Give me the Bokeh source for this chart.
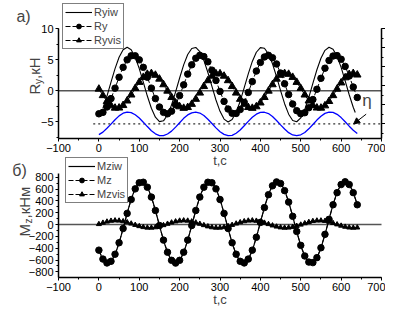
import math
from bokeh.plotting import figure
from bokeh.models import (Range1d, LinearAxis, SingleIntervalTicker, Legend,
                          LegendItem, Label, Arrow, NormalHead)
from bokeh.embed import file_html
from bokeh.resources import INLINE

FONT = "Liberation Sans"

# ---------------- data: panel a) ----------------
t_ryiw = [10, 20, 30, 40, 50, 60, 70, 80, 90, 100, 110, 120, 130, 140, 150, 160, 170, 180,
          190, 200, 210, 220, 230, 240, 250, 260, 270, 280, 290, 300, 310, 320, 330, 340,
          350, 360, 370, 380, 390, 400, 410, 420, 430, 440, 450, 460, 470, 480, 490, 500,
          510, 520, 530, 540, 550, 560, 570, 580, 590, 600, 610, 620, 630, 635]
ryiw = [-2.80, -0.84, 1.40, 3.56, 5.38, 6.58, 7.00, 6.58, 5.38, 3.56, 1.40, -0.84, -2.80,
        -4.24, -4.95, -4.82, -3.88, -2.26, -0.18, 2.06, 4.16, 5.82, 6.79, 6.96, 6.30, 4.89,
        2.94, 0.72, -1.47, -3.30, -4.54, -5.00, -4.62, -3.45, -1.67, 0.50, 2.72, 4.72, 6.19,
        6.93, 6.84, 5.94, 4.35, 2.29, 0.04, -2.07, -3.75, -4.77, -4.97, -4.35, -2.97, -1.04,
        1.18, 3.38, 5.23, 6.50, 6.99, 6.66, 5.53, 3.76, 1.61, -0.63, -2.64, -3.47]

t_s = list(range(0, 650, 10))
ry = [-3.69, -3.46, -2.60, -1.25, 0.43, 2.18, 3.77, 4.97, 5.62, 5.62, 4.97, 3.77, 2.18,
      0.43, -1.25, -2.60, -3.46, -3.69, -3.27, -2.25, -0.77, 0.96, 2.68, 4.18, 5.23, 5.69,
      5.49, 4.66, 3.32, 1.66, -0.10, -1.70, -2.92, -3.60, -3.63, -3.01, -1.84, -0.26, 1.48,
      3.17, 4.55, 5.43, 5.70, 5.31, 4.31, 2.85, 1.13, -0.60, -2.12, -3.19, -3.68, -3.51,
      -2.72, -1.40, 0.25, 2.01, 3.63, 4.87, 5.58, 5.65, 5.07, 3.92, 2.37, 0.61, -1.07]
ryvis = [0.29, -0.75, -1.69, -2.39, -2.76, -2.74, -2.34, -1.61, -0.65, 0.39, 1.38, 2.18,
         2.67, 2.79, 2.52, 1.90, 1.00, -0.03, -1.05, -1.93, -2.54, -2.79, -2.66, -2.15,
         -1.34, -0.34, 0.71, 1.65, 2.37, 2.75, 2.75, 2.37, 1.65, 0.71, -0.34, -1.34, -2.15,
         -2.66, -2.79, -2.54, -1.93, -1.05, -0.03, 1.00, 1.90, 2.52, 2.79, 2.67, 2.18, 1.38,
         0.39, -0.65, -1.61, -2.34, -2.74, -2.76, -2.39, -1.69, -0.75, 0.29, 1.29, 2.11,
         2.64, 2.80, 2.56]
eta = [-0.56, -0.43, -0.23, -0.01, 0.22, 0.42, 0.56, 0.62, 0.59, 0.48, 0.31, 0.09, -0.14,
       -0.36, -0.52, -0.61, -0.61, -0.53, -0.38, -0.17, 0.06, 0.29, 0.47, 0.58, 0.62, 0.57,
       0.44, 0.24, 0.02, -0.21, -0.41, -0.55, -0.62, -0.60, -0.49, -0.32, -0.10, 0.13, 0.35,
       0.51, 0.60, 0.61, 0.54, 0.39, 0.18, -0.05, -0.27, -0.46, -0.58, -0.62, -0.57, -0.45,
       -0.26, -0.03, 0.20, 0.40, 0.55, 0.62, 0.60, 0.50, 0.33, 0.11, -0.12, -0.33, -0.50]
eta_mean_t = [-14, 700]
eta_mean = [0, 0]
zero_t = [-100, 700]
zero_v = [0, 0]

# ---------------- data: panel б) ----------------
mziw = [-440, -594, -661, -632, -510, -312, -68, 193, 432, 615, 720, 729, 643, 473, 243,
        -16, -267, -476, -615, -663, -615, -476, -267, -16, 243, 473, 643, 729, 720, 615,
        432, 193, -68, -312, -510, -632, -661, -594, -440, -218, 37, 292, 514, 668, 735,
        706, 584, 387, 142, -119, -358, -541, -645, -654, -569, -399, -168, 90, 341, 550,
        689, 737, 689, 550, 341]
mz = [-432, -583, -649, -621, -501, -307, -66, 190, 425, 605, 708, 717, 633, 466, 239,
      -15, -262, -467, -604, -651, -604, -467, -262, -15, 239, 466, 633, 717, 708, 605,
      425, 190, -66, -307, -501, -621, -649, -583, -432, -214, 37, 288, 506, 657, 723,
      695, 575, 381, 140, -116, -351, -531, -634, -643, -559, -392, -165, 89, 336, 541,
      678, 725, 678, 541, 336]
mzvis = [8, 31, 50, 64, 70, 67, 56, 39, 17, -6, -27, -43, -52, -53, -46, -31, -10, 13, 35,
         53, 66, 70, 66, 53, 35, 13, -10, -31, -46, -53, -52, -43, -27, -6, 17, 39, 56, 67,
         70, 64, 50, 31, 8, -15, -34, -48, -54, -51, -40, -23, -1, 22, 43, 59, 68, 69, 62,
         47, 26, 3, -19, -37, -50, -54, -50]

# axis extents of each panel
T_LIM = (-100, 700)
RY_LIM = (-7.66, 10)
ETA_LIM = (-0.765, 5.0)
MZ_LIM = (-895, 865)

# one canvas, two panels (each panel uses its own y range)
p = figure(width=385, height=308, x_range=Range1d(-243.7, 709.9),
           y_range=Range1d(-34.95, 14.50), output_backend="svg", toolbar_location=None,
           x_axis_location=None, y_axis_location=None, min_border=0)
p.extra_y_ranges = {"eta": Range1d(-9.675, 6.467), "mz": Range1d(-1419.6, 3792.7)}
p.outline_line_color = None
p.grid.visible = False


def add_axis(side, ticker_int, fixed, bounds, y_range_name="default", label=None,
             hide_labels=False, tick_out=3):
    ax = LinearAxis(ticker=SingleIntervalTicker(interval=ticker_int, num_minor_ticks=2),
                    fixed_location=fixed, bounds=bounds, y_range_name=y_range_name,
                    axis_line_color="black", axis_line_width=1.5,
                    major_tick_line_color="black", minor_tick_line_color="black",
                    major_tick_in=0, minor_tick_in=0, major_tick_out=tick_out,
                    minor_tick_out=2, major_label_standoff=2,
                    major_label_text_font=FONT, major_label_text_font_size="11px",
                    major_label_text_color="black")
    if hide_labels:
        ax.major_label_overrides = {i: "" for i in range(-2, 8)}
    if label:
        ax.axis_label = label
        ax.axis_label_text_font = FONT
        ax.axis_label_text_font_style = "normal"
        ax.axis_label_text_font_size = "13px"
        ax.axis_label_standoff = -2
    p.add_layout(ax, side)
    return ax


# ---- panel a) axes ----
add_axis("left", 5, T_LIM[0], RY_LIM)
add_axis("below", 100, RY_LIM[0], T_LIM, label="t,c")
add_axis("right", 1, T_LIM[1], ETA_LIM, y_range_name="eta", hide_labels=True, tick_out=4)
# ---- panel б) axes ----
add_axis("left", 200, T_LIM[0], MZ_LIM, y_range_name="mz")
add_axis("below", 100, MZ_LIM[0], T_LIM, y_range_name="mz", label="t,c")


def make_legend(items, loc):
    lg = Legend(items=items, location=loc, margin=0, padding=2, spacing=2,
                glyph_width=27, glyph_height=12, label_height=12, label_standoff=2,
                label_text_font=FONT, label_text_font_size="11px",
                border_line_color="black", border_line_width=1,
                background_fill_color="white", background_fill_alpha=1.0)
    p.add_layout(lg)


# ---- panel a) data ----
p.line(zero_t, zero_v, line_color="#555555", line_width=1.5)
p.line(eta_mean_t, eta_mean, y_range_name="eta", line_color="#333333", line_width=1.3,
       line_dash="2 3")
p.line(t_s, eta, y_range_name="eta", line_color="#0000ff", line_width=1.3)
r1 = p.line(t_ryiw, ryiw, line_color="black", line_width=1.1)
r2l = p.line(t_s, ry, line_color="black", line_width=1, line_dash="5 2")
r2s = p.scatter(t_s, ry, marker="circle", size=6.5, color="black")
r3l = p.line(t_s, ryvis, line_color="black", line_width=1, line_dash="5 2")
r3s = p.scatter(t_s, ryvis, marker="triangle", size=7.5, color="black")
make_legend([LegendItem(label="Ryiw", renderers=[r1]),
             LegendItem(label="Ry", renderers=[r2l, r2s]),
             LegendItem(label="Ryvis", renderers=[r3l, r3s])], (62, 259))

ang = math.pi / 2
p.add_layout(Label(x=-186.7, y=11.93, text="а)", text_font=FONT, text_font_size="16px",
                   text_align="center", text_baseline="middle"))
p.add_layout(Label(x=-160.2, y=-0.60, text="R", angle=ang, text_font=FONT,
                   text_font_size="15px", text_align="left", text_baseline="middle"))
p.add_layout(Label(x=-150.5, y=1.09, text="y", angle=ang, text_font=FONT,
                   text_font_size="10px", text_align="left", text_baseline="middle"))
p.add_layout(Label(x=-160.2, y=1.89, text=",кН", angle=ang, text_font=FONT,
                   text_font_size="15px", text_align="left", text_baseline="middle"))
p.add_layout(Label(x=664, y=1.22, y_range_name="eta", text="η", text_font=FONT,
                   text_font_size="17px", text_align="center", text_baseline="middle"))
p.add_layout(Arrow(x_start=662, y_start=0.51, x_end=631, y_end=0.0,
                   y_range_name="eta", line_color="black", line_width=1,
                   end=NormalHead(size=6, fill_color="black", line_color="black")))

# ---- panel б) data ----
p.line(zero_t, zero_v, y_range_name="mz", line_color="#555555", line_width=1.5)
q1 = p.line(t_s, mziw, y_range_name="mz", line_color="black", line_width=1.2)
q2l = p.line(t_s, mz, y_range_name="mz", line_color="black", line_width=1, line_dash="5 2")
q2s = p.scatter(t_s, mz, y_range_name="mz", marker="circle", size=6.5, color="black")
q3l = p.line(t_s, mzvis, y_range_name="mz", line_color="black", line_width=1,
             line_dash="5 2")
q3s = p.scatter(t_s, mzvis, y_range_name="mz", marker="triangle", size=5, color="black")
make_legend([LegendItem(label="Mziw", renderers=[q1]),
             LegendItem(label="Mz", renderers=[q2l, q2s]),
             LegendItem(label="Mzvis", renderers=[q3l, q3s])], (65, 105))

p.add_layout(Label(x=-196.6, y=915.7, y_range_name="mz", text="б)", text_font=FONT,
                   text_font_size="16px", text_align="center", text_baseline="middle"))
p.add_layout(Label(x=-184.3, y=-201.2, y_range_name="mz", text="M", angle=ang,
                   text_font=FONT, text_font_size="15px", text_align="left",
                   text_baseline="middle"))
p.add_layout(Label(x=-175.5, y=18.8, y_range_name="mz", text="z", angle=ang,
                   text_font=FONT, text_font_size="10px", text_align="left",
                   text_baseline="middle"))
p.add_layout(Label(x=-184.3, y=103.4, y_range_name="mz", text=",кНм", angle=ang,
                   text_font=FONT, text_font_size="15px", text_align="left",
                   text_baseline="middle"))

open("out.html", "w").write(file_html(p, INLINE))
